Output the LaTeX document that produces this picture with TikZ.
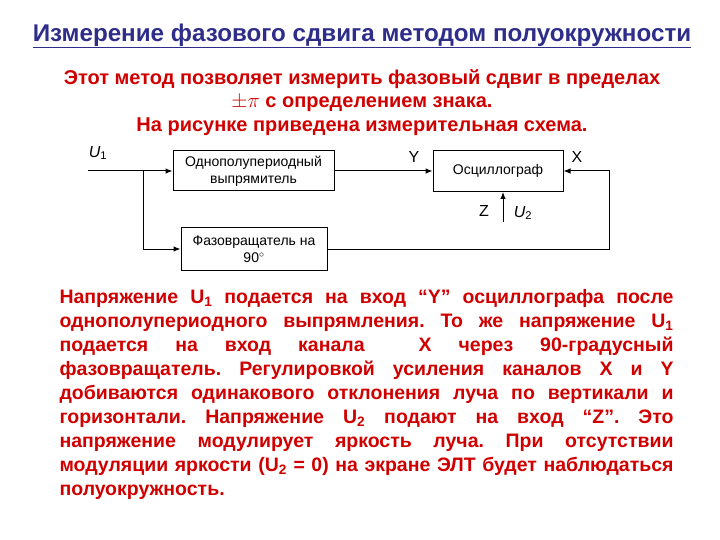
\documentclass[tikz,border=0pt]{standalone}
\usepackage{fontspec}
\setmainfont{Liberation Sans}
\usetikzlibrary{arrows.meta, positioning}
\definecolor{titleblue}{HTML}{2E2E8A}
\definecolor{textred} {HTML}{D00000}

\begin{document}
\frenchspacing
\begin{tikzpicture}[x=1pt, y=-1pt,
    block/.style={draw, line width=1pt, align=center, inner sep=0pt,
                  font=\fontsize{14}{17}\selectfont},
    wire/.style={line width=1pt},
    feed/.style={wire, -{Latex[length=7pt, width=5.5pt]}},
    port/.style={font=\fontsize{16}{18}\selectfont},
    redtext/.style={text=textred, font=\bfseries\fontsize{20}{23.5}\selectfont}
  ]
    \useasboundingbox (0,0) rectangle (720,540);

    % heading and intro
    \node[text=titleblue, font=\bfseries\fontsize{24.2}{26}\selectfont] (title) at (362,36)
      {\underline{Измерение фазового сдвига методом полуокружности}};
    \node[redtext, align=center] (intro) at (362,102.5)
      {Этот метод позволяет измерить фазовый сдвиг в пределах\\
       $\pm\pi$ с определением знака.\\
       На рисунке приведена измерительная схема.};

    % scheme
    \node[block, minimum width=161pt, minimum height=40pt] (rect) at (253.5,171)
      {Однополупериодный\\ выпрямитель};
    \node[block, minimum width=146pt, minimum height=42pt] (phase) at (254,249)
      {Фазовращатель на\\ 90$^{\circ}$};
    \node[block, minimum width=130pt, minimum height=41pt] (osc) at (498,171)
      {Осциллограф};

    \coordinate (in) at (88,171);
    \coordinate (br) at (143,171);
    \coordinate (xr) at (609,249);
    \coordinate (zin) at (503,222);

    \draw[feed] (in) -- (rect);
    \draw[feed] (br) |- (phase);
    \draw[feed] (rect) -- (osc);
    \draw[feed] (phase) -| (xr) |- (osc);
    \draw[feed] (zin) -- (zin |- osc.south);

    \node[port] (u1) at (98,153) {\textit{U}\textsubscript{1}};
    \node[port] (ylab) at (414,157) {Y};
    \node[port] (xlab) at (577,157) {X};
    \node[port] (zlab) at (484,211) {Z};
    \node[port] (u2) at (523,213) {\textit{U}\textsubscript{2}};

    % explanation
    \node[redtext, anchor=north west, text width=614pt, align=justify,
          font=\bfseries\fontsize{19.5}{24}\selectfont] (expl) at (56,286)
      {Напряжение U\textsubscript{1} подается на вход “Y” осциллографа после\linebreak
       однополупериодного выпрямления. То же напряжение U\textsubscript{1}\linebreak
       подается на вход канала\ \ X через 90-градусный\linebreak
       фазовращатель. Регулировкой усиления каналов X и Y\linebreak
       добиваются одинакового отклонения луча по вертикали и\linebreak
       горизонтали. Напряжение U\textsubscript{2} подают на вход “Z”. Это\linebreak
       напряжение модулирует яркость луча. При отсутствии\linebreak
       модуляции яркости (U\textsubscript{2} = 0) на экране ЭЛТ будет наблюдаться\linebreak
       полуокружность.};
\end{tikzpicture}
\end{document}
